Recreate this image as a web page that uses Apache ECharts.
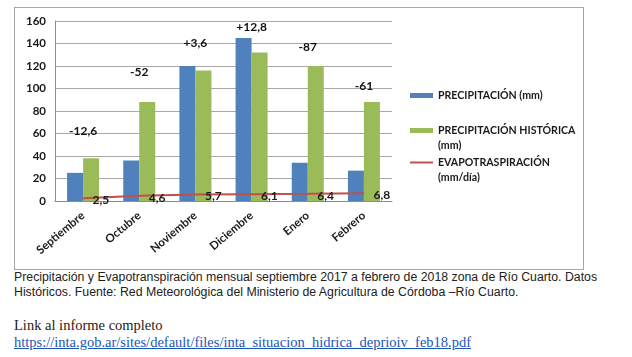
<!DOCTYPE html>
<html><head><meta charset="utf-8">
<script src="https://cdn.jsdelivr.net/npm/echarts@6/dist/echarts.min.js"></script>
<style>
html,body{margin:0;padding:0;background:#fff;width:632px;height:357px;overflow:hidden;}
#box{position:absolute;left:14px;top:7px;width:568px;height:261px;border:1px solid #a6a6a6;}
#chart{width:568px;height:261px;}
#cap{position:absolute;left:14px;top:270px;width:610px;font-family:"Liberation Sans",Arial,sans-serif;font-size:12.3px;line-height:15px;color:#222;}
#link{position:absolute;left:14px;top:317px;font-family:"Liberation Serif","Times New Roman",serif;font-size:14.5px;line-height:17px;color:#222;}
#link a{color:#1a56b8;text-decoration:underline;}
</style></head><body>
<div id="box"><div id="chart"></div></div>
<div id="cap">Precipitación y Evapotranspiración mensual septiembre 2017 a febrero de 2018 zona de Río Cuarto. Datos Históricos. Fuente: Red Meteorológica del Ministerio de Agricultura de Córdoba –Río Cuarto.</div>
<div id="link">Link al informe completo<br><a href="#">https://inta.gob.ar/sites/default/files/inta_situacion_hidrica_deprioiv_feb18.pdf</a></div>
<script>
const categories = ["Septiembre","Octubre","Noviembre","Diciembre","Enero","Febrero"];
const precipitacion = [25, 36, 120, 145, 34, 27];
const historica = [38, 88, 116, 132, 120, 88];
const evapo = [2.5, 4.6, 5.7, 6.1, 6.4, 6.8];
const diffLabels = ["-12,6","-52","+3,6","+12,8","-87","-61"];
const diffLabelAt = [62, 115, 140, 155, 137, 102];
const yTicks = [0,20,40,60,80,100,120,140,160];
const seriesNames = ["PRECIPITACIÓN (mm)","PRECIPITACIÓN HISTÓRICA","EVAPOTRASPIRACIÓN"];
const unitLines = ["(mm)","(mm/día)"];

const F = "Lato, 'Open Sans', sans-serif";
const TXT = '#1a1a1a';
const legendText = {fontFamily:F,fontWeight:'bold',fontSize:10.6,color:TXT};
const chart = echarts.init(document.getElementById('chart'), null, {renderer:'canvas'});
chart.setOption({
  animation:false,
  grid:{left:40,top:13,width:337,height:180},
  legend:[
    {left:395,top:82,itemWidth:23,itemHeight:5,icon:'rect',padding:0,
     data:[seriesNames[0]],textStyle:legendText},
    {left:395,top:117,itemWidth:23,itemHeight:5,icon:'rect',padding:0,
     data:[seriesNames[1]],textStyle:legendText},
    {left:395,top:149,itemWidth:23,itemHeight:2,icon:'rect',padding:0,
     data:[{name:seriesNames[2],itemStyle:{color:'#c0504d',opacity:1}}],textStyle:legendText}
  ],
  graphic:[
    {type:'text',left:423,top:132,style:{text:unitLines[0],font:"bold 10.6px "+F,fill:TXT}},
    {type:'text',left:423,top:164,style:{text:unitLines[1],font:"bold 10.6px "+F,fill:TXT}}
  ],
  xAxis:{
    type:'category', data:categories,
    axisLine:{lineStyle:{color:'#8c8c8c'}},
    axisTick:{show:false},
    axisLabel:{rotate:40,interval:0,fontFamily:F,fontWeight:'bold',fontSize:11.5,color:TXT,margin:13}
  },
  yAxis:{
    type:'value', min:yTicks[0], max:yTicks[yTicks.length-1], interval:20,
    axisLine:{show:true,lineStyle:{color:'#8c8c8c'}},
    axisTick:{show:false},
    splitLine:{lineStyle:{color:'#a8a8a8'}},
    axisLabel:{fontFamily:F,fontWeight:'bold',fontSize:11.5,color:TXT,margin:9}
  },
  series:[
    {name:seriesNames[0],type:'bar',data:precipitacion,barWidth:16,barGap:'0%',
     itemStyle:{color:'#4f81bd'}},
    {name:seriesNames[1],type:'bar',data:historica,barWidth:16,
     itemStyle:{color:'#9bbb59'}},
    {name:seriesNames[2],type:'line',data:evapo,symbol:'circle',symbolSize:1,showSymbol:true,
     lineStyle:{color:'#c0504d',width:2},itemStyle:{color:'#c0504d'},
     label:{show:true,position:'right',distance:9,offset:[0,2],
       formatter:p=>String(p.value).replace('.',','),
       fontFamily:F,fontWeight:'bold',fontSize:12,color:TXT},
     z:5},
    {name:'diff',type:'line',data:diffLabelAt,symbol:'circle',symbolSize:1,showSymbol:true,
     lineStyle:{color:'transparent',width:0},itemStyle:{color:'transparent'},silent:true,
     label:{show:true,position:'inside',formatter:p=>diffLabels[p.dataIndex],
       fontFamily:F,fontWeight:'bold',fontSize:12,color:'#111'}}
  ]
});
</script>
</body></html>
